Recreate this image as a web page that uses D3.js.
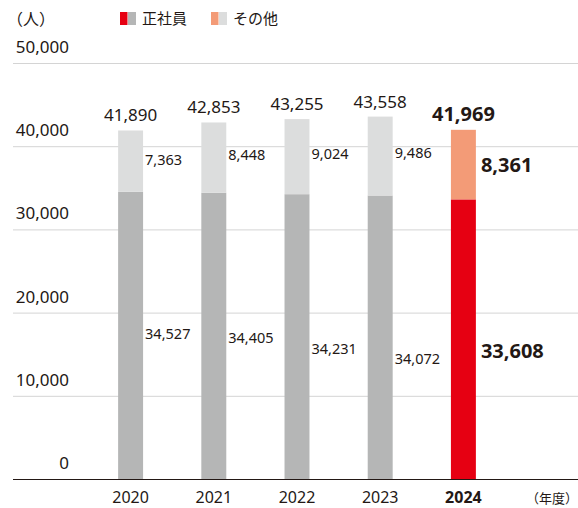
<!DOCTYPE html>
<meta charset="utf-8">
<style>
	body { margin: 0; background: #fff; }
	svg { display: block; font-family: "Noto Sans", "Noto Sans CJK JP", sans-serif; }
</style>
<svg width="578" height="508"></svg>
<script src="https://d3js.org/d3.v7.min.js"></script>
<script>
	var years = ["2020", "2021", "2022", "2023", "2024"];
	var regular = [34527, 34405, 34231, 34072, 33608];
	var others = [7363, 8448, 9024, 9486, 8361];
	var totals = [41890, 42853, 43255, 43558, 41969];
	var yTicks = [0, 10000, 20000, 30000, 40000, 50000];

	// hand nudges of the in-bar labels (px), as in the original layout
	var regNudge = [-1, 2, 12, 22, 12];
	var othNudge = [-1, -3, -3, -3, 0];

	var svg = d3.select("svg"),
		width = +svg.attr("width"),
		height = +svg.attr("height");

	var x = d3.scaleBand().domain(years).range([89, 505]).paddingInner(0.7).paddingOuter(0.35);
	var y = d3.scaleLinear().domain([0, 50000]).range([479, 63]);
	var fmt = d3.format(",");
	var latest = "2024";
	var ink = "#231815";

	// gridlines + tick labels
	var grid = svg.append("g");
	grid.selectAll("line").data(yTicks.slice(1)).enter().append("line")
		.attr("x1", 13).attr("x2", width)
		.attr("y1", function(d){ return y(d) + 0.5; }).attr("y2", function(d){ return y(d) + 0.5; })
		.attr("stroke", "#d4d4d4").attr("stroke-width", 1);
	grid.selectAll("text").data(yTicks).enter().append("text")
		.attr("x", 69).attr("y", function(d){ return y(d) - 10; })
		.attr("text-anchor", "end").attr("font-size", 17).attr("fill", ink)
		.text(fmt);

	var rows = years.map(function(yr, i){
		return { i: i, year: yr, reg: regular[i], oth: others[i], total: totals[i] };
	});

	var bars = svg.append("g").selectAll("g").data(rows).enter().append("g");
	bars.append("rect")
		.attr("x", function(d){ return x(d.year); }).attr("width", x.bandwidth())
		.attr("y", function(d){ return y(d.reg); })
		.attr("height", function(d){ return y(0) - y(d.reg); })
		.attr("fill", function(d){ return d.year === latest ? "#e60012" : "#b5b6b6"; });
	bars.append("rect")
		.attr("x", function(d){ return x(d.year); }).attr("width", x.bandwidth())
		.attr("y", function(d){ return y(d.total); })
		.attr("height", function(d){ return y(d.reg) - y(d.total); })
		.attr("fill", function(d){ return d.year === latest ? "#f39b77" : "#dcdddd"; });

	// totals
	bars.append("text")
		.attr("x", function(d){ return x(d.year) + x.bandwidth() / 2; })
		.attr("y", function(d){ return y(d.total) - 9; })
		.attr("text-anchor", "middle")
		.attr("font-size", function(d){ return d.year === latest ? 20 : 17; })
		.attr("font-weight", function(d){ return d.year === latest ? "bold" : "normal"; })
		.attr("fill", ink)
		.text(function(d){ return fmt(d.total); });

	// segment labels
	["reg", "oth"].forEach(function(k){
		var nudge = k === "reg" ? regNudge : othNudge;
		bars.append("text")
			.attr("x", function(d){ return x(d.year) + x.bandwidth() + (d.year === latest ? 5 : 2); })
			.attr("y", function(d){
				var lo = k === "reg" ? 0 : d.reg, hi = k === "reg" ? d.reg : d.total;
				return (y(lo) + y(hi)) / 2 + nudge[d.i];
			})
			.attr("dy", "0.35em")
			.attr("font-size", function(d){ return d.year === latest ? 20 : 14.5; })
			.attr("font-weight", function(d){ return d.year === latest ? "bold" : "normal"; })
			.attr("fill", ink)
			.text(function(d){ return fmt(d[k]); });
	});

	// baseline + x labels
	svg.append("line").attr("x1", 13).attr("x2", width)
		.attr("y1", y(0) + 0.5).attr("y2", y(0) + 0.5)
		.attr("stroke", ink).attr("stroke-width", 1);
	svg.append("g").selectAll("text").data(years).enter().append("text")
		.attr("x", function(d){ return x(d) + x.bandwidth() / 2; })
		.attr("y", 503).attr("text-anchor", "middle").attr("font-size", 16)
		.attr("font-weight", function(d){ return d === latest ? "bold" : "normal"; })
		.attr("fill", ink).text(function(d){ return d; });
	svg.append("text").attr("x", 578).attr("y", 503).attr("text-anchor", "end")
		.attr("font-size", 13).attr("fill", ink).text("（年度）");

	// unit + legend
	svg.append("text").attr("x", 7).attr("y", 25).attr("font-size", 16)
		.attr("fill", ink).text("（人）");
	var legend = [
		{ label: "正社員", c1: "#e60012", c2: "#b5b6b6", x: 120 },
		{ label: "その他", c1: "#f39b77", c2: "#dcdddd", x: 211 }
	];
	var lg = svg.append("g").selectAll("g").data(legend).enter().append("g")
		.attr("transform", function(d){ return "translate(" + d.x + ",12)"; });
	lg.append("rect").attr("width", 7.5).attr("height", 13).attr("fill", function(d){ return d.c1; });
	lg.append("rect").attr("x", 8).attr("width", 8).attr("height", 13).attr("fill", function(d){ return d.c2; });
	lg.append("text").attr("x", 22).attr("y", 12).attr("font-size", 15)
		.attr("fill", ink).text(function(d){ return d.label; });
</script>
